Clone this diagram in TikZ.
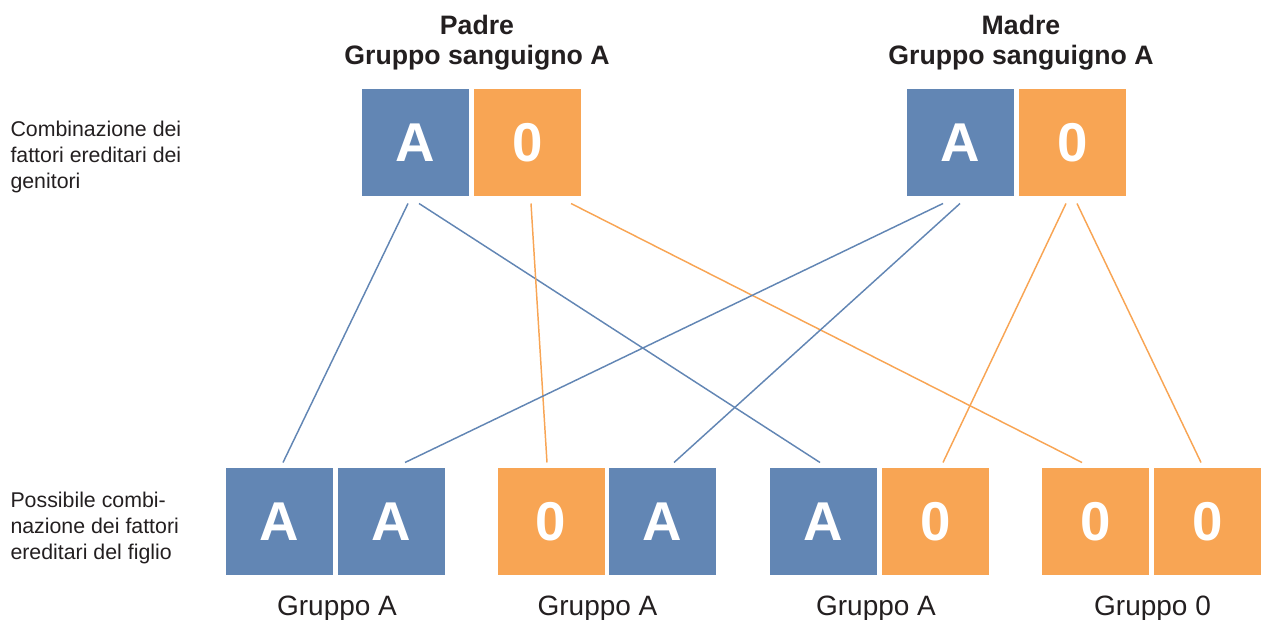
\documentclass[tikz,border=0pt]{standalone}
\usepackage{fontspec}
\setmainfont{Liberation Sans}
\usetikzlibrary{calc}

\definecolor{bgblue}{RGB}{98,134,180}
\definecolor{bgorange}{RGB}{248,165,84}
\definecolor{txtdark}{RGB}{35,31,32}

\tikzset{every picture/.style={line width=0.75pt}}
\tikzset{
  genebox/.style={minimum width=80.25pt, minimum height=80.25pt, inner sep=0pt, text=white, font=\fontsize{41}{41}\selectfont\bfseries},
  blbox/.style={genebox, fill=bgblue},
  orbox/.style={genebox, fill=bgorange},
  blline/.style={draw=bgblue, line width=1.1pt},
  orline/.style={draw=bgorange, line width=1.1pt},
  parenttitle/.style={anchor=north, inner sep=0pt, align=center, text=txtdark, font=\fontsize{20}{22.5}\selectfont\bfseries},
  sidelabel/.style={anchor=base west, inner sep=0pt, align=left, text=txtdark, font=\fontsize{16}{19.5}\selectfont},
  grouplabel/.style={anchor=base, inner sep=0pt, text=txtdark, font=\fontsize{21}{21}\selectfont}
}

\begin{document}
\begin{tikzpicture}[x=0.75pt,y=0.75pt,yscale=-1,xscale=1]
\useasboundingbox (0,0) rectangle (1267,620);

%Shape: Parent boxes
\node [blbox] (fA) at (415.5,142.5) {A};
\node [orbox] (f0) at (527.5,142.5) {0};
\node [blbox] (mA) at (960.5,142.5) {A};
\node [orbox] (m0) at (1072.5,142.5) {0};

%Shape: Child boxes
\node [blbox] (c1a) at (279.5,521.5) {A};
\node [blbox] (c1b) at (391.5,521.5) {A};
\node [orbox] (c2a) at (551,521.5) {0};
\node [blbox] (c2b) at (662.5,521.5) {A};
\node [blbox] (c3a) at (823.5,521.5) {A};
\node [orbox] (c3b) at (935.5,521.5) {0};
\node [orbox] (c4a) at (1095.5,521.5) {0};
\node [orbox] (c4b) at (1207.5,521.5) {0};

%Straight Lines: father
\draw [blline] ($(fA.south)+(-7.5,7)$) -- ($(c1a.north)+(3.5,-5)$) ;
\draw [blline] ($(fA.south)+(3.5,7)$) -- ($(c3a.north)+(-3.5,-5)$) ;
\draw [orline] ($(f0.south)+(3.5,7)$) -- ($(c2a.north)+(-4,-5)$) ;
\draw [orline] ($(f0.south)+(43.5,7)$) -- ($(c4a.north)+(-13.5,-5)$) ;
%Straight Lines: mother
\draw [blline] ($(mA.south)+(-17.5,7)$) -- ($(c1b.north)+(13.5,-5)$) ;
\draw [blline] ($(mA.south)+(-0.5,7)$) -- ($(c2b.north)+(11.5,-5)$) ;
\draw [orline] ($(m0.south)+(-6.5,7)$) -- ($(c3b.north)+(7.5,-5)$) ;
\draw [orline] ($(m0.south)+(4.5,7)$) -- ($(c4b.north)+(-6.5,-5)$) ;

% Text Node
\node [parenttitle] (tpadre) at (477,15) {Padre\\Gruppo sanguigno A};
% Text Node
\node [parenttitle] (tmadre) at (1021,15) {Madre\\Gruppo sanguigno A};
% Text Node
\node [sidelabel] (lgen) at (10,189) {Combinazione dei\\fattori ereditari dei\\genitori};
% Text Node
\node [sidelabel] (lfig) at (10,559) {Possibile combi-\\nazione dei fattori\\ereditari del figlio};
% Text Node
\node [grouplabel] (g1) at (337,615) {Gruppo A};
% Text Node
\node [grouplabel] (g2) at (597.5,615) {Gruppo A};
% Text Node
\node [grouplabel] (g3) at (876,615) {Gruppo A};
% Text Node
\node [grouplabel] (g4) at (1152.5,615) {Gruppo 0};

\end{tikzpicture}
\end{document}
